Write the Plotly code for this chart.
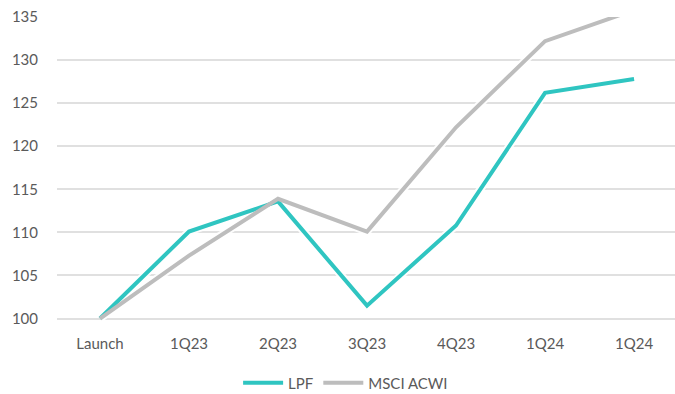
import plotly.graph_objects as go

categories = ["Launch", "1Q23", "2Q23", "3Q23", "4Q23", "1Q24", "1Q24"]
lpf = [100, 110.1, 113.6, 101.5, 110.8, 126.2, 127.8]
msci = [100, 107.3, 113.9, 110.1, 122.2, 132.2, 135.8]

x_pos = list(range(len(categories)))
teal = "#2FC5C1"
gray = "#BDBDBD"

fig = go.Figure()
for vals in (lpf, msci):
    fig.add_trace(go.Scatter(x=x_pos, y=vals, mode="lines", showlegend=False,
                             hoverinfo="skip",
                             line=dict(color="rgba(255,255,255,0.9)", width=8)))
fig.add_trace(go.Scatter(x=x_pos, y=lpf, mode="lines", name="LPF",
                         line=dict(color=teal, width=4)))
fig.add_trace(go.Scatter(x=x_pos, y=msci, mode="lines", name="MSCI ACWI",
                         line=dict(color=gray, width=4)))

fig.update_layout(
    width=675, height=394,
    margin=dict(l=57, r=0, t=17, b=72, autoexpand=False),
    plot_bgcolor="white", paper_bgcolor="white",
    font=dict(family="Lato", size=15, color="#5A5A5A"),
    legend=dict(orientation="h", x=0.467, xanchor="center", y=-0.2, yanchor="middle",
                font=dict(size=15, color="#5A5A5A"), itemwidth=40),
    xaxis=dict(tickvals=x_pos, ticktext=categories, range=[-0.483, 6.46],
               showgrid=False, zeroline=False, showline=False, ticks="",
               ticklabelstandoff=11),
    yaxis=dict(range=[99.6, 135], tickvals=[100, 105, 110, 115, 120, 125, 130, 135],
               showgrid=True, gridcolor="#E0E0E0", gridwidth=1.5, zeroline=False,
               showline=False, ticks="", ticklabelstandoff=18),
)

fig.write_html("out.html")
